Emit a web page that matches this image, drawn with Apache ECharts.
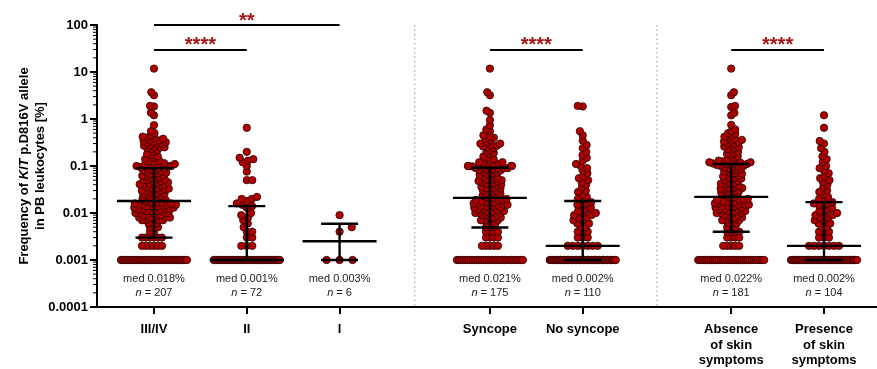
<!DOCTYPE html>
<html><head><meta charset="utf-8">
<script src="https://cdn.jsdelivr.net/npm/echarts@6/dist/echarts.min.js"></script>
<style>html,body{margin:0;padding:0;background:#fff}#c{width:877px;height:369px}</style>
</head><body><div id="c"></div>
<script>
// ---------------- DATA ----------------
const categories = ['III/IV', 'II', 'I', 'Syncope', 'No syncope', 'Absence\nof skin\nsymptoms', 'Presence\nof skin\nsymptoms'];
const detectionFloor = 0.001;
const floorCounts = [40, 41, 3, 30, 50, 33, 46];   // points sitting at the 0.001 floor

const vIII_IV = [0.002,0.002,0.002,0.002,0.002,0.002,0.003,0.003,0.003,0.003,0.003,0.003,
  0.004,0.004,0.005,0.005,0.005,0.006,0.006,0.006,0.007,0.007,0.007,0.007,0.008,0.008,0.008,0.008,0.008,
  0.009,0.009,0.009,0.009,0.010,0.010,0.010,0.010,0.010,0.011,0.011,0.011,0.012,0.012,0.012,0.012,0.012,
  0.013,0.013,0.013,0.014,0.014,0.014,0.014,0.015,0.015,0.015,0.015,0.016,0.016,0.016,0.017,0.017,0.017,
  0.018,0.019,0.02,0.02,0.021,0.022,0.023,0.024,0.025,0.025,0.026,0.027,0.028,0.029,0.03,0.03,0.031,0.032,
  0.033,0.034,0.035,0.036,0.038,0.039,0.04,0.04,0.041,0.042,0.044,0.045,0.047,0.048,0.05,0.05,0.052,0.054,
  0.056,0.058,0.06,0.062,0.064,0.066,0.068,0.07,0.072,0.075,0.078,0.08,0.082,0.085,0.088,0.09,
  0.092,0.095,0.098,0.1,0.1,0.1,0.102,0.105,0.108,0.11,0.11,0.115,0.12,0.125,0.13,0.14,0.15,0.16,0.17,0.18,
  0.2,0.22,0.23,0.24,0.25,0.25,0.26,0.27,0.28,0.3,0.3,0.31,0.32,0.33,0.34,0.35,0.36,0.38,0.4,0.4,0.42,0.45,
  0.5,0.55,0.74,1.2,1.36,1.85,1.9,3.2,3.7,11.8];
const vII = [0.002,0.002,0.002,0.003,0.003,0.004,0.004,0.005,0.006,0.007,0.008,0.009,0.01,
  0.013,0.014,0.015,0.016,0.018,0.02,0.02,0.022,0.05,0.05,0.076,0.1,0.12,0.13,0.14,0.15,0.2,0.65];
const vI = [0.004,0.005,0.009];
const vSyncope = [0.002,0.002,0.002,0.002,0.002,0.003,0.003,0.003,0.003,0.004,0.004,0.004,0.004,
  0.005,0.005,0.005,0.006,0.006,0.006,0.007,0.007,0.007,0.008,0.008,0.008,0.009,0.009,0.009,
  0.010,0.010,0.010,0.010,0.011,0.011,0.011,0.012,0.012,0.012,0.013,0.013,0.013,0.014,0.014,0.014,
  0.015,0.015,0.015,0.016,0.016,0.016,0.017,0.017,0.018,0.018,0.019,0.019,0.02,0.02,
  0.021,0.022,0.023,0.024,0.025,0.026,0.027,0.028,0.03,0.03,0.032,0.033,0.034,0.035,0.036,0.038,0.04,0.04,
  0.042,0.044,0.045,0.046,0.048,0.05,0.05,0.052,0.055,0.057,0.06,0.062,0.065,0.068,0.07,0.072,0.075,0.078,
  0.08,0.082,0.085,0.087,0.089,0.09,0.09,
  0.092,0.094,0.096,0.098,0.1,0.1,0.1,0.1,0.105,0.11,0.11,0.115,0.12,0.12,0.13,0.14,0.15,0.16,0.18,0.19,
  0.2,0.22,0.24,0.25,0.26,0.27,0.28,0.3,0.3,0.32,0.35,0.38,0.4,0.42,0.45,0.55,0.6,0.74,0.95,1.35,1.5,3.2,3.7,11.8];
const vNoSyncope = [0.002,0.002,0.002,0.002,0.002,0.002,0.002,
  0.003,0.003,0.003,0.004,0.004,0.004,0.005,0.005,0.006,0.006,0.007,0.007,0.008,0.008,0.009,0.009,0.01,0.01,
  0.011,0.012,0.013,0.014,0.015,0.016,0.017,
  0.019,0.02,0.022,0.025,0.028,0.03,0.035,0.04,0.045,0.05,0.055,0.06,0.07,0.08,0.09,0.1,0.11,0.13,0.15,0.17,
  0.2,0.24,0.28,0.35,0.45,0.55,1.85,1.9];
const vAbsence = [0.002,0.002,0.002,0.002,0.002,0.003,0.003,0.003,0.003,0.004,0.004,0.004,0.004,
  0.005,0.005,0.005,0.006,0.006,0.006,0.007,0.007,0.007,0.008,0.008,0.008,0.009,0.009,0.009,
  0.010,0.010,0.010,0.010,0.011,0.011,0.011,0.012,0.012,0.012,0.013,0.013,0.013,0.014,0.014,0.014,
  0.015,0.015,0.015,0.016,0.016,0.016,0.017,0.017,0.018,0.018,0.019,0.019,0.02,0.02,
  0.022,0.023,0.024,0.025,0.026,0.027,0.028,0.029,0.03,0.031,0.032,0.033,0.034,0.035,0.036,0.038,0.04,0.04,
  0.042,0.044,0.046,0.048,0.05,0.052,0.054,0.056,0.058,0.06,0.062,0.065,0.068,0.07,0.073,0.076,0.08,0.083,
  0.086,0.09,0.093,0.096,0.1,0.1,0.1,0.105,0.108,
  0.11,0.112,0.113,0.115,0.118,0.12,0.12,0.125,0.13,0.13,0.14,0.15,0.16,0.17,0.18,0.19,0.2,0.22,0.23,0.24,
  0.25,0.26,0.28,0.3,0.3,0.32,0.33,0.35,0.36,0.38,0.4,0.42,0.45,0.48,0.5,0.55,0.6,0.75,1.2,1.35,1.8,1.9,3.2,3.7,11.8];
const vPresence = [0.002,0.002,0.002,0.002,0.002,0.002,0.002,
  0.003,0.003,0.003,0.004,0.004,0.004,0.005,0.005,0.006,0.006,0.007,0.007,0.008,0.008,0.009,0.009,0.01,0.01,
  0.011,0.012,0.013,0.014,0.015,0.016,0.016,
  0.017,0.019,0.02,0.022,0.025,0.028,0.03,0.035,0.04,0.045,0.05,0.055,0.06,0.07,0.08,0.09,0.1,0.12,0.14,0.16,
  0.2,0.24,0.3,0.34,0.65,1.2];
const groupValues = [vIII_IV, vII, vI, vSyncope, vNoSyncope, vAbsence, vPresence];

const medians = [0.018, 0.001, 0.0025, 0.021, 0.002, 0.022, 0.002];
const q1 = [0.003, 0.001, 0.001, 0.0049, 0.001, 0.004, 0.001];
const q3 = [0.09, 0.014, 0.0059, 0.092, 0.018, 0.11, 0.017];
const medLabels = ['med 0.018%', 'med 0.001%', 'med 0.003%', 'med 0.021%', 'med 0.002%', 'med 0.022%', 'med 0.002%'];
const nValues = [207, 72, 6, 175, 110, 181, 104];
const sigPairs = [[0, 2, '**'], [0, 1, '****'], [3, 4, '****'], [5, 6, '****']];
const yTicks = [0.0001, 0.001, 0.01, 0.1, 1, 10, 100];

// ---------------- LAYOUT ----------------
const colPos = [0, 1, 2, 3.62, 4.62, 6.22, 7.22];
const sepPos = [(colPos[2] + colPos[3]) / 2, (colPos[4] + colPos[5]) / 2];
const sigLevel = [100, 29.5, 29.5, 29.5];
const xMin = -0.614, xMax = 7.791;
const swarmD = [4.0, 5.5, 13, 4.0, 5.0, 4.0, 5.0];
const FONT = '"Liberation Sans", Arial, sans-serif';
const DOT = '#b00000', DOT_EDGE = '#2a0606', SIG = '#a51414';

const minorVals = [];
for (let e = -4; e < 2; e++) for (let m = 2; m <= 9; m++) minorVals.push(+(m * Math.pow(10, e)).toPrecision(3));

function nearestIdx(v) { let b = 0; colPos.forEach((p, i) => { if (Math.abs(p - v) < Math.abs(colPos[b] - v)) b = i; }); return b; }

const chart = echarts.init(document.getElementById('c'), null, { renderer: 'canvas' });

function baseSeries() {
  return [
    { // separators
      type: 'custom', z: 1, silent: true, clip: false,
      data: sepPos.map(p => [p]),
      renderItem: (params, api) => {
        const a = api.coord([api.value(0), 100]), b = api.coord([api.value(0), 0.0001]);
        return { type: 'line', shape: { x1: a[0], y1: a[1], x2: b[0], y2: b[1] },
          style: { stroke: '#a8a8a8', lineWidth: 1.2, lineDash: [1.5, 3] } };
      }
    },
    { // y minor ticks
      type: 'custom', z: 6, silent: true, clip: false,
      data: minorVals.map(v => [xMin, v]),
      renderItem: (params, api) => {
        const c = api.coord([api.value(0), api.value(1)]);
        return { type: 'line', shape: { x1: c[0] - 4, y1: c[1], x2: c[0], y2: c[1] },
          style: { stroke: '#000', lineWidth: 1 } };
      }
    },
    { // median + IQR
      type: 'custom', z: 5, silent: true, clip: false,
      data: colPos.map((p, i) => [p, medians[i], q1[i], q3[i]]),
      renderItem: (params, api) => {
        const x = api.value(0);
        const m = api.coord([x, api.value(1)]), lo = api.coord([x, api.value(2)]), hi = api.coord([x, api.value(3)]);
        const st = { stroke: '#000', lineWidth: 2.4 };
        const cx = m[0];
        return { type: 'group', children: [
          { type: 'line', shape: { x1: cx, y1: lo[1], x2: cx, y2: hi[1] }, style: st },
          { type: 'line', shape: { x1: cx - 18.5, y1: lo[1], x2: cx + 18.5, y2: lo[1] }, style: st },
          { type: 'line', shape: { x1: cx - 18.5, y1: hi[1], x2: cx + 18.5, y2: hi[1] }, style: st },
          { type: 'line', shape: { x1: cx - 37, y1: m[1], x2: cx + 37, y2: m[1] }, style: st }
        ] };
      }
    },
    { // med / n labels
      type: 'custom', z: 5, silent: true, clip: false,
      data: colPos.map((p, i) => [p, i]),
      renderItem: (params, api) => {
        const i = api.value(1);
        const c = api.coord([api.value(0), 0.0001]);
        return { type: 'group', children: [
          { type: 'text', style: { text: medLabels[i], x: c[0], y: c[1] - 28, align: 'center', verticalAlign: 'middle',
            fontSize: 11, fontFamily: FONT, fill: '#222' } },
          { type: 'text', style: { text: '{i|n} = ' + nValues[i], x: c[0], y: c[1] - 14, align: 'center', verticalAlign: 'middle',
            fontSize: 11, fontFamily: FONT, fill: '#222',
            rich: { i: { fontStyle: 'italic', fontSize: 11, fontFamily: FONT, fill: '#222' } } } }
        ] };
      }
    },
    { // significance bars
      type: 'custom', z: 5, silent: true, clip: false,
      data: sigPairs.map((s, k) => [colPos[s[0]], colPos[s[1]], sigLevel[k], k]),
      renderItem: (params, api) => {
        const a = api.coord([api.value(0), api.value(2)]), b = api.coord([api.value(1), api.value(2)]);
        const k = api.value(3);
        return { type: 'group', children: [
          { type: 'line', shape: { x1: a[0], y1: a[1], x2: b[0], y2: b[1] }, style: { stroke: '#000', lineWidth: 2 } },
          { type: 'text', style: { text: sigPairs[k][2], x: (a[0] + b[0]) / 2, y: a[1] - 4, align: 'center', verticalAlign: 'middle',
            fontSize: 20, fontWeight: 'bold', fontFamily: FONT, fill: SIG } }
        ] };
      }
    }
  ];
}

const option = {
  animation: false,
  backgroundColor: '#fff',
  grid: { left: 97, right: 0, top: 25, bottom: 62, containLabel: false, outerBoundsMode: 'none' },
  xAxis: {
    type: 'value', min: xMin, max: xMax, splitLine: { show: false },
    axisLine: { show: true, onZero: false, lineStyle: { color: '#000', width: 2 } },
    axisTick: { show: true, customValues: colPos, length: 7, lineStyle: { color: '#000', width: 2 } },
    axisLabel: { customValues: colPos, formatter: v => categories[nearestIdx(v)],
      fontFamily: FONT, fontWeight: 'bold', fontSize: 13, color: '#000', lineHeight: 15.5, margin: 15 }
  },
  yAxis: {
    type: 'log', logBase: 10, min: 0.0001, max: 100,
    splitLine: { show: false },
    axisLine: { show: true, onZero: false, lineStyle: { color: '#000', width: 2 } },
    axisTick: { show: true, customValues: yTicks, length: 7, lineStyle: { color: '#000', width: 2 } },
    axisLabel: { customValues: yTicks, margin: 9, fontFamily: FONT, fontWeight: 'bold', fontSize: 13, color: '#000',
      formatter: v => { const e = Math.round(Math.log10(v)); return e >= 0 ? String(Math.pow(10, e)) : Math.pow(10, e).toFixed(-e); } },
    name: 'Frequency of {i|KIT} p.D816V allele\nin PB leukocytes [%]',
    nameLocation: 'middle', nameRotate: 90, nameGap: 49, nameMoveOverlap: false,
    nameTextStyle: { fontFamily: FONT, fontWeight: 'bold', fontSize: 13, color: '#000', lineHeight: 16,
      rich: { i: { fontFamily: FONT, fontWeight: 'bold', fontStyle: 'italic', fontSize: 13, color: '#000', lineHeight: 16 } } }
  },
  series: baseSeries()
};
chart.setOption(option);

// ---------------- beeswarm layout (pixel space) ----------------
function swarm(values, D, maxHalf, floorHalf) {
  const byVal = new Map();
  values.forEach(v => { if (!byVal.has(v)) byVal.set(v, 0); byVal.set(v, byVal.get(v) + 1); });
  const keys = [...byVal.keys()].sort((a, b) => a - b);
  const placed = [], out = [];
  let flip = 1;
  for (const v of keys) {
    const k = byVal.get(v);
    const y = chart.convertToPixel({ yAxisIndex: 0 }, v);
    if ((k - 1) * D / 2 > floorHalf) {
      for (let i = 0; i < k; i++) {
        const x = -floorHalf + 2 * floorHalf * i / (k - 1);
        out.push([v, x]); placed.push({ x, y });
      }
      continue;
    }
    for (let j = 0; j < k; j++) {
      const ivs = [];
      placed.forEach(q => { const dy = Math.abs(q.y - y); if (dy < D) { const w = Math.sqrt(D * D - dy * dy); ivs.push([q.x - w, q.x + w]); } });
      const cands = [0];
      ivs.forEach(iv => cands.push(iv[0], iv[1]));
      cands.sort((a, b) => (Math.abs(a) - Math.abs(b)) || (flip * (b - a)));
      let best = null;
      for (const c of cands) {
        if (ivs.every(iv => c <= iv[0] + 1e-6 || c >= iv[1] - 1e-6)) { best = c; break; }
      }
      if (best === null) best = 0;
      if (Math.abs(best) > maxHalf) best = Math.sign(best) * maxHalf;
      flip = -flip;
      out.push([v, best]); placed.push({ x: best, y });
    }
  }
  return out;
}

const dotData = [];
groupValues.forEach((vals, i) => {
  const all = new Array(floorCounts[i]).fill(detectionFloor).concat(vals);
  swarm(all, swarmD[i], 22, 33).forEach(([v, dx]) => dotData.push([colPos[i], v, dx]));
});

option.series = baseSeries().concat([{
  type: 'custom', z: 3, silent: true, clip: false,
  data: dotData,
  renderItem: (params, api) => {
    const c = api.coord([api.value(0), api.value(1)]);
    return { type: 'circle', shape: { cx: c[0] + api.value(2), cy: c[1], r: 3.7 },
      style: { fill: DOT, stroke: DOT_EDGE, lineWidth: 0.8 } };
  }
}]);
chart.setOption(option, true);
</script>
</body></html>
